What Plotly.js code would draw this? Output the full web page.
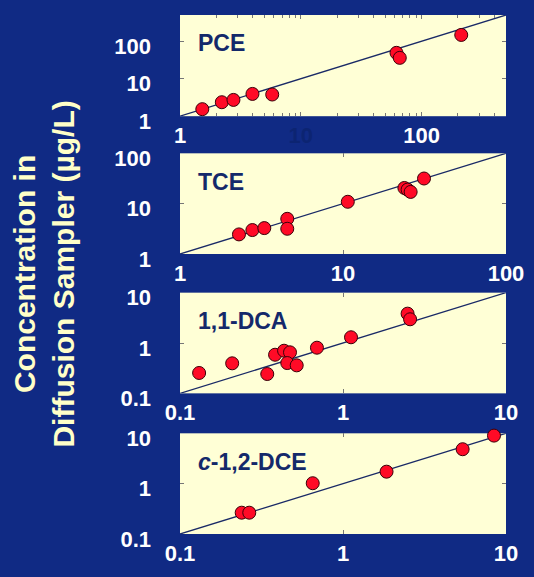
<!DOCTYPE html>
<html>
<head>
<meta charset="utf-8">
<script src="https://cdn.plot.ly/plotly-3.0.1.min.js"></script>
<style>html,body{margin:0;padding:0;background:#102a84;}</style>
</head>
<body>
<div id="chart" style="width:534px;height:577px;"></div>
<script>
// Panel names
const panelNames = ['PCE', 'TCE', '1,1-DCA', '<i>c</i>-1,2-DCE'];

// Data (x = reference concentration, y = diffusion sampler concentration, µg/L)
const pceX = [1.53, 2.22, 2.77, 3.98, 5.8, 62, 66, 213];
const pceY = [1.54, 2.36, 2.72, 3.93, 3.79, 49, 36, 147];
const tceX = [2.30, 2.78, 3.29, 4.55, 4.55, 10.7, 23.8, 24.9, 26.0, 31.4];
const tceY = [2.45, 2.99, 3.27, 5.0, 3.17, 10.9, 20.5, 19.0, 17.1, 31.6];
const dcaX = [0.131, 0.209, 0.343, 0.383, 0.435, 0.473, 0.455, 0.52, 0.692, 1.12, 2.49, 2.58];
const dcaY = [0.254, 0.395, 0.242, 0.585, 0.703, 0.653, 0.40, 0.36, 0.807, 1.30, 3.83, 2.96];
const dceX = [0.239, 0.266, 0.652, 1.85, 5.42, 8.44];
const dceY = [0.265, 0.265, 1.02, 1.73, 4.83, 9.0];

// Axis ranges (same on x and y) and 1:1 lines
const pceRange = [1, 500];
const tceRange = [1, 100];
const dcaRange = [0.1, 10];
const dceRange = [0.1, 10];

// Tick labels
const pceTicks = [1, 10, 100];
const tceTicks = [1, 10, 100];
const dcaTicks = [0.1, 1, 10];
const dceTicks = [0.1, 1, 10];
const pceTickText = ['1', '10', '100'];
const tceTickText = ['1', '10', '100'];
const dcaTickText = ['0.1', '1', '10'];
const dceTickText = ['0.1', '1', '10'];

const xs = [pceX, tceX, dcaX, dceX];
const ys = [pceY, tceY, dcaY, dceY];
const ranges = [pceRange, tceRange, dcaRange, dceRange];
const ticks = [pceTicks, tceTicks, dcaTicks, dceTicks];
const tickTexts = [pceTickText, tceTickText, dcaTickText, dceTickText];

const NAVY = '#102a84';
const FONT = 'Liberation Sans, Arial, sans-serif';
const domains = [[0.805, 1.0], [0.5395, 0.7335], [0.271, 0.465], [0.0, 0.194]];

const traces = [];
const layout = {
  width: 534, height: 577,
  margin: {l: 180, r: 28, t: 15, b: 43},
  paper_bgcolor: NAVY,
  plot_bgcolor: '#ffffd6',
  showlegend: false,
  annotations: [],
  font: {family: FONT}
};

for (let i = 0; i < 4; i++) {
  const s = i === 0 ? '' : String(i + 1);
  const xa = 'x' + s, ya = 'y' + s;
  traces.push({
    x: ranges[i], y: ranges[i], xaxis: xa, yaxis: ya,
    mode: 'lines', line: {color: '#1a2a66', width: 1.3}, hoverinfo: 'skip'
  });
  traces.push({
    x: xs[i], y: ys[i], xaxis: xa, yaxis: ya,
    mode: 'markers', cliponaxis: false,
    marker: {size: 13, color: '#ff0a26', line: {color: '#3a0008', width: 1}}
  });
  const lr = ranges[i].map(v => Math.log10(v));
  let xt = tickTexts[i].slice();
  if (i === 0) xt[1] = '<span style="color:#0c2472">10</span>';
  const common = {
    type: 'log', range: lr, tickvals: ticks[i],
    ticks: 'inside', ticklen: 4, tickcolor: '#777', tickwidth: 1,
    mirror: 'ticks', showgrid: false, zeroline: false, showline: false,
    tickfont: {family: FONT, size: 22, color: '#ffffff', weight: 'bold'}
  };
  layout['xaxis' + s] = Object.assign({}, common, {
    ticktext: xt, anchor: ya, domain: [0, 1], ticklabelstandoff: 4
  });
  if (i === 0) {
    layout['xaxis' + s].minor = {ticks: 'inside', ticklen: 3, tickcolor: '#777', dtick: 'D1', showgrid: false};
  }
  layout['yaxis' + s] = Object.assign({}, common, {
    ticktext: tickTexts[i], anchor: xa, domain: domains[i],
    ticklabelstandoff: 28, ticklabelshift: 5
  });
  layout.annotations.push({
    xref: xa + ' domain', yref: ya + ' domain', x: 0.05, y: 0.72,
    xanchor: 'left', yanchor: 'middle', showarrow: false,
    text: panelNames[i],
    font: {family: FONT, size: 23, color: '#14296a', weight: 'bold'}
  });
}

layout.annotations.push({
  xref: 'paper', yref: 'paper', x: -0.42, y: 0.5,
  xanchor: 'center', yanchor: 'middle', showarrow: false, textangle: -90,
  text: 'Concentration in<br>Diffusion Sampler (µg/L)',
  font: {family: FONT, size: 30, color: '#ffffc8', weight: 'bold'}
});

Plotly.newPlot('chart', traces, layout, {staticPlot: true, displayModeBar: false});
</script>
</body>
</html>
